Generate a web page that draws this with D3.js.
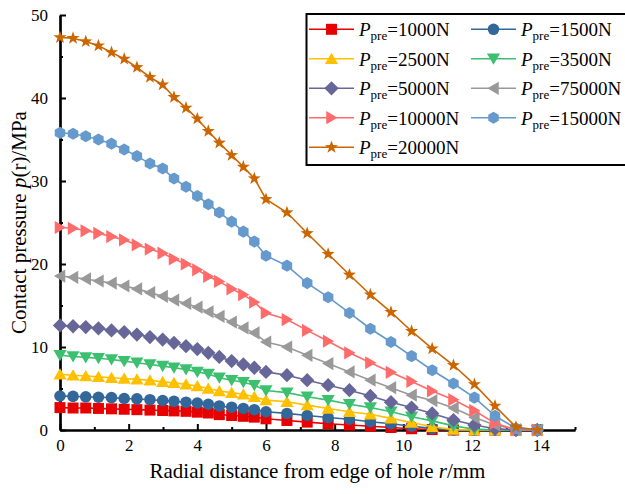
<!DOCTYPE html>
<html>
<head>
<meta charset="utf-8">
<script src="https://cdn.jsdelivr.net/npm/d3@7"></script>
<style>
  html, body { margin: 0; padding: 0; background: #fff; }
  svg { display: block; }
  text { font-family: "Liberation Serif", "Times New Roman", serif; fill: #000; }
</style>
</head>
<body>
<svg id="chart" width="625" height="494"></svg>
<script>
// ---- data ----
const radialDistance = [0, 0.38, 0.75, 1.12, 1.5, 1.87, 2.24, 2.62, 2.99, 3.32, 3.67, 4.0, 4.32, 4.64, 5.0, 5.34, 5.66, 6.0,
  6.61, 7.2, 7.81, 8.43, 9.04, 9.64, 10.24, 10.84, 11.46, 12.07, 12.67, 13.28, 13.9];

const p1000 = [2.7, 2.65, 2.65, 2.6, 2.55, 2.5, 2.45, 2.4, 2.35, 2.3, 2.25, 2.15, 2.05, 1.85, 1.75, 1.65, 1.55, 1.35,
  1.15, 0.95, 0.75, 0.6, 0.45, 0.3, 0.15, 0.05, 0, 0, 0, 0, 0];
const p1500 = [4.1, 4.05, 4.0, 3.95, 3.9, 3.8, 3.75, 3.65, 3.55, 3.45, 3.35, 3.25, 3.1, 2.9, 2.75, 2.6, 2.45, 2.2,
  2.0, 1.75, 1.5, 1.3, 1.0, 0.75, 0.45, 0.2, 0, 0, 0, 0, 0];
const p2500 = [6.7, 6.6, 6.5, 6.4, 6.3, 6.2, 6.1, 6.0, 5.8, 5.7, 5.5, 5.3, 5.0, 4.7, 4.5, 4.3, 4.0, 3.6,
  3.4, 3.0, 2.6, 2.2, 1.9, 1.4, 0.9, 0.4, 0.05, 0, 0, 0, 0];
const p3500 = [9.0, 8.85, 8.75, 8.65, 8.5, 8.3, 8.1, 7.9, 7.7, 7.5, 7.3, 7.0, 6.75, 6.3, 6.0, 5.75, 5.4, 4.75,
  4.5, 4.0, 3.6, 3.1, 2.7, 2.2, 1.6, 1.1, 0.5, 0.1, 0, 0, 0];
const p5000 = [12.6, 12.5, 12.4, 12.25, 12.0, 11.8, 11.5, 11.2, 10.9, 10.5, 10.1, 9.75, 9.3, 8.8, 8.3, 7.9, 7.5, 7.0,
  6.6, 6.0, 5.4, 4.8, 4.1, 3.35, 2.7, 2.0, 1.2, 0.6, 0.15, 0, 0];
const p7500 = [18.55, 18.4, 18.2, 17.95, 17.7, 17.35, 17.0, 16.55, 16.1, 15.65, 15.25, 14.8, 14.25, 13.7, 13.0, 12.3, 11.7, 10.6,
  10.0, 9.0, 8.0, 7.0, 6.0, 5.1, 4.2, 3.55, 2.65, 1.5, 0.6, 0.05, 0];
const p10000 = [24.4, 24.3, 24.0, 23.7, 23.3, 22.9, 22.3, 21.8, 21.3, 20.6, 20.0, 19.3, 18.5, 17.9, 17.0, 16.3, 15.4, 14.1,
  13.3, 12.0, 10.7, 9.3, 8.1, 6.95, 5.85, 4.7, 3.65, 2.35, 0.8, 0.05, 0];
const p15000 = [35.8, 35.7, 35.4, 35.0, 34.5, 33.8, 33.0, 32.1, 31.5, 30.3, 29.3, 28.2, 27.2, 26.2, 25.1, 23.9, 22.7, 21.0,
  19.8, 17.7, 16.0, 14.1, 12.2, 10.6, 8.9, 7.2, 5.6, 3.9, 1.7, 0.2, 0];
const p20000 = [47.3, 47.2, 46.8, 46.3, 45.5, 44.7, 43.7, 42.5, 41.6, 40.1, 38.8, 37.5, 36.0, 34.6, 33.1, 31.7, 30.3, 27.8,
  26.2, 23.7, 21.2, 18.7, 16.3, 14.2, 11.9, 9.8, 7.8, 5.5, 2.9, 0.35, 0];

const seriesLabels = ["1000N", "1500N", "2500N", "3500N", "5000N", "75000N", "10000N", "15000N", "20000N"];
const seriesValues = [p1000, p1500, p2500, p3500, p5000, p7500, p10000, p15000, p20000];
const xTicks = [0, 2, 4, 6, 8, 10, 12, 14];
const yTicks = [0, 10, 20, 30, 40, 50];

// ---- styles ----
const colors = ["#e60000", "#336699", "#ffc000", "#3cc070", "#666699", "#999999", "#ff6b6b", "#6699cc", "#cc6600"];
const shapes = ["square", "circle", "triangleUp", "triangleDown", "diamond", "triangleLeft", "triangleRight", "hexagon", "star"];

function markerPath(shape, r) {
  const p = d3.path();
  function poly(pts) { pts.forEach((q, i) => i ? p.lineTo(q[0], q[1]) : p.moveTo(q[0], q[1])); p.closePath(); }
  switch (shape) {
    case "square": poly([[-r, -r], [r, -r], [r, r], [-r, r]]); break;
    case "circle": p.arc(0, 0, r * 1.05, 0, 2 * Math.PI); break;
    case "triangleUp": poly([[0, -r * 1.1], [r * 1.2, r * 0.95], [-r * 1.2, r * 0.95]]); break;
    case "triangleDown": poly([[0, r * 1.1], [r * 1.2, -r * 0.95], [-r * 1.2, -r * 0.95]]); break;
    case "triangleLeft": poly([[-r * 1.1, 0], [r * 0.95, -r * 1.2], [r * 0.95, r * 1.2]]); break;
    case "triangleRight": poly([[r * 1.1, 0], [-r * 0.95, -r * 1.2], [-r * 0.95, r * 1.2]]); break;
    case "diamond": poly([[0, -r * 1.3], [r * 1.3, 0], [0, r * 1.3], [-r * 1.3, 0]]); break;
    case "hexagon": {
      const pts = [];
      for (let i = 0; i < 6; i++) { const a = Math.PI / 6 + i * Math.PI / 3; pts.push([r * 1.1 * Math.cos(a), r * 1.1 * Math.sin(a)]); }
      poly(pts); break;
    }
    case "star": {
      const pts = [];
      for (let i = 0; i < 10; i++) {
        const a = -Math.PI / 2 + i * Math.PI / 5;
        const rr = i % 2 ? r * 0.5 : r * 1.25;
        pts.push([rr * Math.cos(a), rr * Math.sin(a)]);
      }
      poly(pts); break;
    }
  }
  return p.toString();
}

// ---- layout ----
const svg = d3.select("#chart");
const plotLeft = 60, plotRight = 575, plotTop = 15, plotBottom = 430;
const x = d3.scaleLinear().domain([0, 15]).range([plotLeft, plotRight]);
const y = d3.scaleLinear().domain([0, 50]).range([plotBottom, plotTop]);

// axes
const xAxis = d3.axisBottom(x).tickValues(xTicks).tickSize(-6).tickSizeOuter(0).tickPadding(9).tickFormat(d3.format("d"));
const yAxis = d3.axisLeft(y).tickValues(yTicks).tickSize(-6).tickSizeOuter(0).tickPadding(12).tickFormat(d3.format("d"));
const xMinor = d3.axisBottom(x).tickValues(d3.range(1, 16, 2)).tickSize(-3).tickSizeOuter(0).tickFormat("");
const yMinor = d3.axisLeft(y).tickValues(d3.range(5, 50, 10)).tickSize(-3).tickSizeOuter(0).tickFormat("");

function styleAxis(g) {
  g.select(".domain").attr("stroke", "#000").attr("stroke-width", 2.2);
  g.selectAll(".tick line").attr("stroke", "#000").attr("stroke-width", 2);
  g.selectAll(".tick text").attr("font-family", "Liberation Serif, Times New Roman, serif").attr("font-size", 17).attr("fill", "#000");
}
svg.append("g").attr("transform", `translate(0,${plotBottom})`).call(xMinor).call(styleAxis);
svg.append("g").attr("transform", `translate(${plotLeft},0)`).call(yMinor).call(styleAxis);
svg.append("g").attr("transform", `translate(0,${plotBottom})`).call(xAxis).call(styleAxis);
svg.append("g").attr("transform", `translate(${plotLeft},0)`).call(yAxis).call(styleAxis);

// axis titles
const xt = svg.append("text").attr("x", (plotLeft + plotRight) / 2).attr("y", 478).attr("text-anchor", "middle").attr("font-size", 21);
xt.append("tspan").text("Radial distance from edge of hole ");
xt.append("tspan").attr("font-style", "italic").text("r");
xt.append("tspan").text("/mm");

const yt = svg.append("text").attr("transform", `translate(26,${(plotTop + plotBottom) / 2}) rotate(-90)`).attr("text-anchor", "middle").attr("font-size", 21);
yt.append("tspan").text("Contact pressure ");
yt.append("tspan").attr("font-style", "italic").text("p");
yt.append("tspan").text("(r)/MPa");

// series
const line = d3.line().x((d, i) => x(radialDistance[i])).y(d => y(d));
seriesValues.forEach((vals, si) => {
  const g = svg.append("g");
  g.append("path").attr("d", line(vals)).attr("fill", "none").attr("stroke", colors[si]).attr("stroke-width", 1.6);
  g.selectAll("path.m").data(vals).enter().append("path").attr("class", "m")
    .attr("transform", (d, i) => `translate(${x(radialDistance[i])},${y(d)})`)
    .attr("d", markerPath(shapes[si], 5.5))
    .attr("fill", colors[si]);
});

// legend
const lg = svg.append("g");
lg.append("rect").attr("x", 306.5).attr("y", 14).attr("width", 330).attr("height", 151)
  .attr("fill", "#fff").attr("stroke", "#000").attr("stroke-width", 2);
const rowY = [29.3, 58.7, 88.3, 117.7, 147.3];
const colX = [309, 471];
seriesLabels.forEach((lab, i) => {
  const row = Math.floor(i / 2), col = i % 2;
  const cy = rowY[row], lx = colX[col];
  lg.append("line").attr("x1", lx).attr("x2", lx + 45).attr("y1", cy).attr("y2", cy).attr("stroke", colors[i]).attr("stroke-width", 1.6);
  lg.append("path").attr("transform", `translate(${lx + 22.5},${cy})`).attr("d", markerPath(shapes[i], 5.5)).attr("fill", colors[i]);
  const t = lg.append("text").attr("x", lx + 50).attr("y", cy + 7).attr("font-size", 19);
  t.append("tspan").attr("font-style", "italic").text("P");
  t.append("tspan").attr("font-size", 13).attr("dy", 4).text("pre");
  t.append("tspan").attr("dy", -4).text("=" + lab);
});
</script>
</body>
</html>
